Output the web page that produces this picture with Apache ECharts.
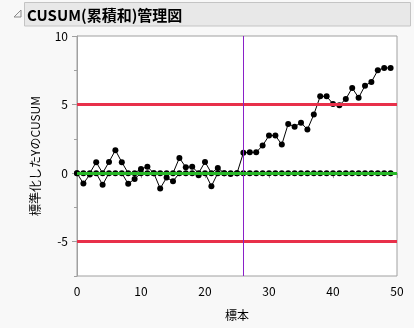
<!DOCTYPE html>
<html><head><meta charset="utf-8">
<script src="https://cdn.jsdelivr.net/npm/echarts@6/dist/echarts.min.js"></script>
<style>html,body{margin:0;padding:0;background:#f8f8f8;}#c{width:414px;height:328px;}</style>
</head><body><div id="c"></div>
<script>
const titleText = 'CUSUM(累積和)管理図';
const xAxisName = '標本';
const yAxisName = '標準化したYのCUSUM';
const samples = [0,1,2,3,4,5,6,7,8,9,10,11,12,13,14,15,16,17,18,19,20,21,22,23,24,25,26,27,28,29,30,31,32,33,34,35,36,37,38,39,40,41,42,43,44,45,46,47,48,49];
const upperCusum = [0,0,0,0.80,0,0.82,1.67,0.80,0,0,0.31,0.46,0,0,0,0,1.11,0.43,0.46,0,0.82,0,0.38,0,0,0,1.48,1.52,1.52,2.01,2.74,2.74,2.08,3.59,3.39,3.68,3.18,4.27,5.60,5.60,5.05,4.95,5.41,6.21,5.50,6.38,6.65,7.50,7.67,7.67];
const lowerCusum = [0,-0.76,-0.10,0,-0.85,0,0,0,-0.78,-0.42,0,0,0,-1.12,-0.32,-0.59,0,0,0,-0.15,0,-0.95,0,0,-0.07,0,0,0,0,0,0,0,0,0,0,0,0,0,0,0,0,0,0,0,0,0,0,0,0,0];
const upperLimit = 5;
const lowerLimit = -5;
const centerLine = 0;
const shiftSample = 26;
const yMajorTicks = [-5,0,5,10];
const yMinorTicks = [-7.5,-2.5,2.5,7.5];
const xRange = [0,50];
const yRange = [-7.5,10];

const font = "'Noto Sans CJK JP','Noto Sans',sans-serif";
const axisGray = '#a0a0a0';
const chart = echarts.init(document.getElementById('c'), null, {renderer:'canvas'});
const pair = arr => samples.map((s,i)=>[s,arr[i]]);
chart.setOption({
  backgroundColor:'#f8f8f8',
  animation:false,
  title:{text:titleText,left:22,top:3,textStyle:{fontFamily:font,fontSize:15,fontWeight:'bold',color:'#000'}},
  graphic:[
    {type:'rect',z:-1,shape:{x:24.5,y:2.5,width:386,height:23.5},style:{fill:'#e8e8e8',stroke:'#c4c4c4',lineWidth:1}},
    {type:'polygon',shape:{points:[[14,17],[21,17],[21,10]]},style:{fill:'#f4f4f4',stroke:'#8a8a8a',lineWidth:1}}
  ],
  grid:{left:77,right:17,top:36,bottom:52,show:true,backgroundColor:'#fff',borderColor:axisGray,borderWidth:1},
  xAxis:{type:'value',min:xRange[0],max:xRange[1],interval:10,
    name:xAxisName,nameLocation:'middle',nameGap:33,
    nameTextStyle:{fontFamily:font,fontSize:12,color:'#000'},
    axisLine:{lineStyle:{color:axisGray}},
    axisTick:{length:5,lineStyle:{color:axisGray}},
    minorTick:{show:true,splitNumber:2,length:3,lineStyle:{color:axisGray}},
    axisLabel:{margin:9,fontFamily:font,fontSize:12,color:'#000'},
    splitLine:{show:false}},
  yAxis:[
    {type:'value',min:yRange[0],max:yRange[1],
     name:yAxisName,nameLocation:'middle',nameGap:36,
     nameTextStyle:{fontFamily:font,fontSize:12,color:'#000'},
     axisLine:{show:true,lineStyle:{color:axisGray}},
     axisTick:{show:true,length:5,customValues:yMajorTicks,lineStyle:{color:axisGray}},
     axisLabel:{margin:9,customValues:yMajorTicks,fontFamily:font,fontSize:12,color:'#000'},
     splitLine:{show:false}},
    {type:'value',min:yRange[0],max:yRange[1],position:'left',
     axisLine:{show:false},
     axisTick:{show:true,length:3,customValues:yMinorTicks,lineStyle:{color:axisGray}},
     axisLabel:{show:false},splitLine:{show:false}}
  ],
  series:[
    {type:'line',data:[],z:1,silent:true,
     markLine:{symbol:'none',silent:true,label:{show:false},
       data:[{yAxis:upperLimit,lineStyle:{color:'#e8304a',width:3,type:'solid'}},
             {yAxis:lowerLimit,lineStyle:{color:'#e8304a',width:3,type:'solid'}},
             {xAxis:shiftSample,lineStyle:{color:'#8a20c8',width:1,type:'solid'}}]}},
    {type:'line',data:pair(upperCusum),z:3,symbol:'circle',symbolSize:6,
     itemStyle:{color:'#000'},lineStyle:{color:'#000',width:1}},
    {type:'line',data:pair(lowerCusum),z:3,symbol:'circle',symbolSize:6,
     itemStyle:{color:'#000'},lineStyle:{color:'#000',width:1}},
    {type:'line',data:[],z:5,silent:true,
     markLine:{symbol:'none',silent:true,label:{show:false},
       data:[{yAxis:centerLine,lineStyle:{color:'#27b827',width:3,type:'solid'}}]}}
  ]
});
</script></body></html>
